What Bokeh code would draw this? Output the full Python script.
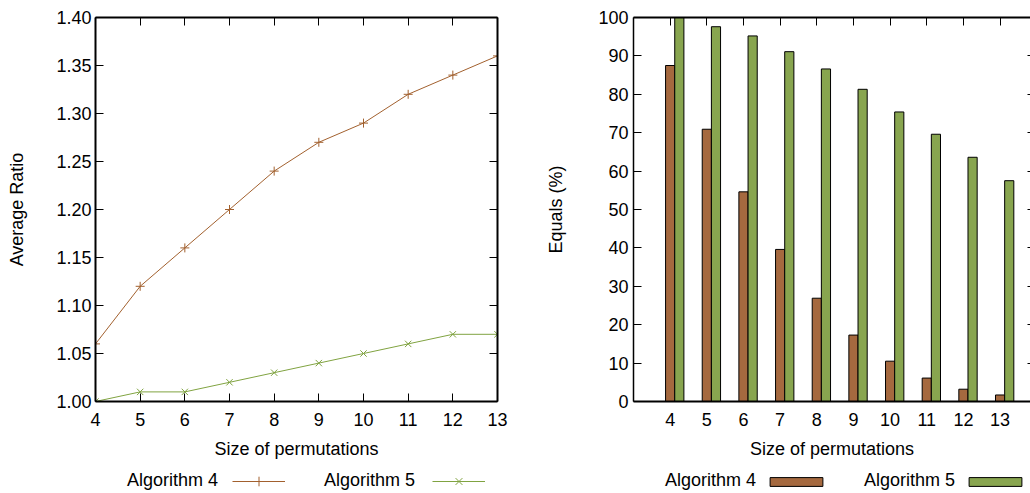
from bokeh.plotting import figure
from bokeh.models import (Range1d, LinearAxis, FixedTicker, Legend, LegendItem,
                          PrintfTickFormatter, ColumnDataSource)
from bokeh.transform import dodge
from bokeh.layouts import row, column
from bokeh.embed import file_html
from bokeh.resources import INLINE

# ---------------- data ----------------
sizes = [4, 5, 6, 7, 8, 9, 10, 11, 12, 13]
ratio_alg4 = [1.06, 1.12, 1.16, 1.20, 1.24, 1.27, 1.29, 1.32, 1.34, 1.36]
ratio_alg5 = [1.00, 1.01, 1.01, 1.02, 1.03, 1.04, 1.05, 1.06, 1.07, 1.07]
equals_alg4 = [87.5, 70.9, 54.6, 39.6, 26.9, 17.3, 10.5, 6.1, 3.2, 1.7]
equals_alg5 = [100.0, 97.6, 95.2, 91.1, 86.6, 81.3, 75.4, 69.6, 63.6, 57.5]
ratio_ticks = [1.00, 1.05, 1.10, 1.15, 1.20, 1.25, 1.30, 1.35, 1.40]
equals_ticks = [0, 10, 20, 30, 40, 50, 60, 70, 80, 90, 100]
series_names = ["Algorithm 4", "Algorithm 5"]

FONT = "Liberation Sans"
FS = "18px"
BROWN_LINE = "#A2602E"
GREEN_LINE = "#80A341"
BROWN_BAR = "#A5693F"
GREEN_BAR = "#88A54F"


def style_axis(ax, show_labels=True, tick_in=8, width=2):
    ax.axis_line_color = "black"
    ax.axis_line_width = width
    ax.major_tick_in = tick_in
    ax.major_tick_out = 0
    ax.minor_tick_line_color = None
    ax.major_tick_line_color = "black"
    ax.major_tick_line_width = 1
    ax.major_label_text_font = FONT
    ax.axis_label_text_font = FONT
    ax.axis_label_text_font_style = "normal"
    ax.axis_label_text_font_size = FS
    ax.axis_label_text_color = "black"
    if show_labels:
        ax.major_label_text_font_size = FS
        ax.major_label_text_color = "black"
    else:
        ax.major_label_text_font_size = "1px"
        ax.major_label_text_color = None
        ax.major_label_standoff = 0


def mirror_axes(p, xticks, yticks, right_tick_in=8, right_line=True):
    top = LinearAxis(ticker=FixedTicker(ticks=xticks))
    style_axis(top, show_labels=False)
    p.add_layout(top, "above")
    right = LinearAxis(ticker=FixedTicker(ticks=yticks))
    style_axis(right, show_labels=False, tick_in=right_tick_in)
    if not right_line:
        right.axis_line_color = None
    p.add_layout(right, "right")


def legend_figure(width):
    # legend strip: its view range (0..1) lies outside the data, so the proxy
    # renderers below draw nothing except their legend samples
    f = figure(width=width, height=30, output_backend="svg", toolbar_location=None,
               x_axis_type=None, y_axis_type=None, x_range=Range1d(0, 1),
               y_range=Range1d(0, 1), min_border=0)
    f.outline_line_color = None
    f.grid.visible = False
    return f


def text_legend(p, blank, x, y, spacing):
    lg = Legend(items=[LegendItem(label=n, renderers=[blank]) for n in series_names],
                location=(x, y), orientation="horizontal", glyph_width=1,
                glyph_height=20, label_height=20, label_width=0, label_standoff=0,
                padding=0, margin=0, spacing=spacing, border_line_color=None,
                background_fill_alpha=0, label_text_font=FONT, label_text_font_size=FS,
                label_text_color="black")
    p.add_layout(lg)


def sample_legend(p, rends, x, y, spacing, gw, gh):
    lg = Legend(items=[LegendItem(label=" ", renderers=r) for r in rends],
                location=(x, y), orientation="horizontal", glyph_width=gw,
                glyph_height=gh, label_height=gh, label_width=0, label_standoff=0,
                padding=0, margin=0, spacing=spacing, border_line_color=None,
                background_fill_alpha=0, label_text_font_size="1px")
    p.add_layout(lg)


# ---------------- left chart ----------------
p1 = figure(width=540, height=463, output_backend="svg", toolbar_location=None,
            x_range=Range1d(4, 13), y_range=Range1d(1.0, 1.4),
            min_border_left=95, min_border_right=43, min_border_top=17,
            min_border_bottom=62, x_axis_label="Size of permutations",
            y_axis_label="Average Ratio")
p1.outline_line_color = None
p1.grid.visible = False
p1.xaxis.ticker = FixedTicker(ticks=sizes)
p1.yaxis.ticker = FixedTicker(ticks=ratio_ticks)
p1.yaxis.formatter = PrintfTickFormatter(format="%.2f")
for ax in p1.xaxis + p1.yaxis:
    style_axis(ax)
p1.xaxis.major_label_standoff = 11
p1.xaxis.axis_label_standoff = 10
p1.yaxis.major_label_standoff = 4
p1.yaxis.axis_label_standoff = 26
mirror_axes(p1, sizes, ratio_ticks)

p1.line(sizes, ratio_alg4, line_color=BROWN_LINE, line_width=1)
p1.scatter(sizes, ratio_alg4, marker="cross", size=9, line_color=BROWN_LINE, line_width=1)
p1.line(sizes, ratio_alg5, line_color=GREEN_LINE, line_width=1)
p1.scatter(sizes, ratio_alg5, marker="x", size=9, line_color=GREEN_LINE, line_width=1)

lg1 = legend_figure(540)
blank1 = lg1.line(sizes, ratio_alg4, line_alpha=0)
k4l = lg1.line(sizes, ratio_alg4, line_color=BROWN_LINE, line_width=1)
k4m = lg1.scatter(sizes, ratio_alg4, marker="cross", size=9, line_color=BROWN_LINE, line_width=1)
k5l = lg1.line(sizes, ratio_alg5, line_color=GREEN_LINE, line_width=1)
k5m = lg1.scatter(sizes, ratio_alg5, marker="x", size=9, line_color=GREEN_LINE, line_width=1)
text_legend(lg1, blank1, 31, 2, 105)
sample_legend(lg1, [[k4l, k4m], [k5l, k5m]], 137, 0, 147, 53, 24)

# ---------------- right chart ----------------
src = ColumnDataSource(dict(size=sizes, a4=equals_alg4, a5=equals_alg5))
p2 = figure(width=490, height=463, output_backend="svg", toolbar_location=None,
            x_range=Range1d(3, 13.83), y_range=Range1d(0, 100),
            min_border_left=93, min_border_right=0, min_border_top=17,
            min_border_bottom=62, x_axis_label="Size of permutations",
            y_axis_label="Equals (%)")
p2.outline_line_color = None
p2.grid.visible = False
p2.xaxis.ticker = FixedTicker(ticks=sizes)
p2.yaxis.ticker = FixedTicker(ticks=equals_ticks)
for ax in p2.xaxis:
    style_axis(ax)
    ax.major_tick_line_color = None
for ax in p2.yaxis:
    style_axis(ax, width=1.5)
p2.xaxis.major_label_standoff = 11
p2.xaxis.axis_label_standoff = 10
p2.yaxis.major_label_standoff = 5
p2.yaxis.axis_label_standoff = 29
mirror_axes(p2, sizes, equals_ticks, right_tick_in=3, right_line=False)

p2.vbar(x="size", top="a4", width=0.25, source=src, fill_color=BROWN_BAR,
        line_color="black", line_width=1)
p2.vbar(x=dodge("size", 0.25), top="a5", width=0.25, source=src,
        fill_color=GREEN_BAR, line_color="black", line_width=1)

lg2 = legend_figure(490)
blank2 = lg2.line(x="size", y="a4", source=src, line_alpha=0)
kb4 = lg2.vbar(x="size", top="a4", width=0.25, source=src, fill_color=BROWN_BAR,
               line_color="black", line_width=1)
kb5 = lg2.vbar(x="size", top="a5", width=0.25, source=src, fill_color=GREEN_BAR,
               line_color="black", line_width=1)
text_legend(lg2, blank2, 31, 2, 107)
sample_legend(lg2, [[kb4], [kb5]], 130, 6, 133, 66, 11)

layout = row(column(p1, lg1), column(p2, lg2))
open("out.html", "w").write(file_html(layout, INLINE))
